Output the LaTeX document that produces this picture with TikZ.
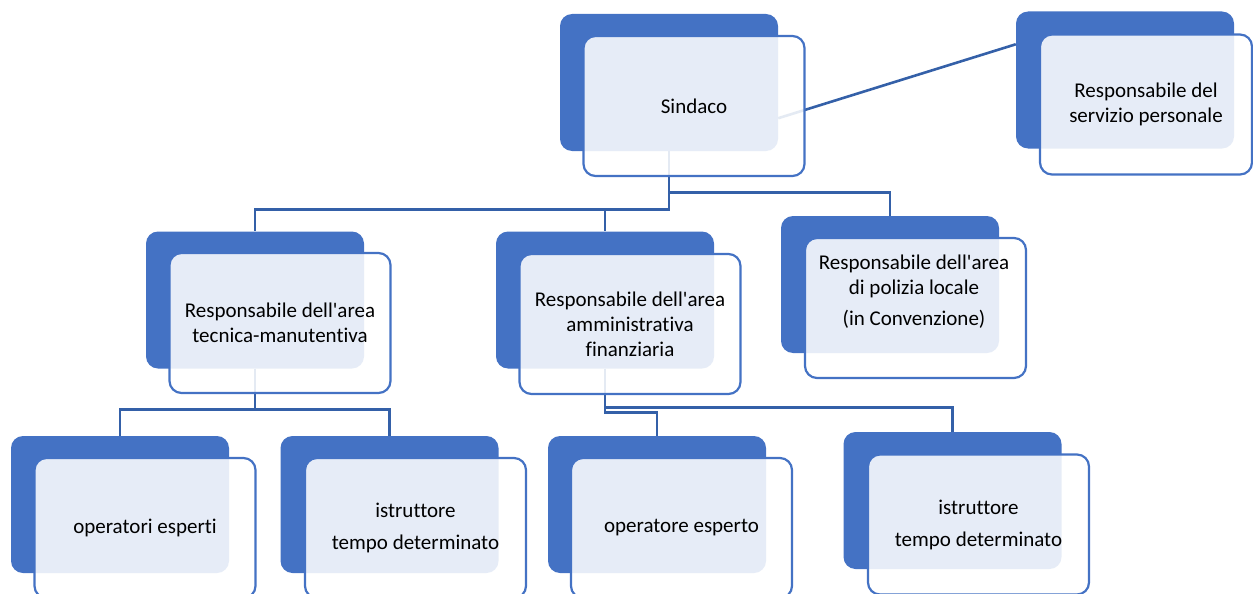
\documentclass[tikz,border=0pt]{standalone}
\usepackage{fontspec}
\setmainfont{Carlito}[Ligatures=NoCommon]
\usetikzlibrary{calc}
\definecolor{boxblue}{HTML}{4472C4}
\definecolor{linkblue}{HTML}{3460A8}
\newcommand{\apos}{\textquotesingle}
\begin{document}
\begin{tikzpicture}[x=1pt,y=-1pt,
    backbox/.style={fill=boxblue,rounded corners=12pt,minimum width=218pt,minimum height=137pt,inner sep=0pt},
    frontbox/.style={draw=boxblue,line width=2.2pt,fill=white,fill opacity=0.87,text opacity=1,
      rounded corners=12pt,minimum width=221pt,minimum height=140pt,inner sep=0pt,align=center,
      font=\fontsize{21}{25}\selectfont},
    lbl/.style={align=center,font=\fontsize{21}{25}\selectfont},
    link/.style={draw=linkblue,line width=2.6pt}]
  \useasboundingbox (0,0) rectangle (1253,594);

  % back boxes
  \node[backbox] (sindB) at (669,82.5) {};
  \node[backbox] (servB) at (1125,80) {};
  \node[backbox] (tecB)  at (255,300) {};
  \node[backbox] (ammB)  at (605,300) {};
  \node[backbox] (polB)  at (890,284.5) {};
  \node[backbox] (opB)   at (120,504.5) {};
  \node[backbox] (istB)  at (389.5,504.5) {};
  \node[backbox] (opeB)  at (657,504.5) {};
  \node[backbox] (ist2B) at (952.5,500.5) {};

  % connectors
  \foreach \c/\d in {tec/58,amm/58,pol/41}
  \draw[link] (sindB.south) -- ++(0,\d) -| (\c B.north);
  \foreach \c in {op,ist}
  \draw[link] (tecB.south) -- ++(0,41) -| (\c B.north);
  \draw[link] (ammB.south) -- ++(0,44) -| (opeB.north);
  \draw[link] (ammB.south) -- ++(0,39) -| (ist2B.north);
  \draw[link] ($(sindB.north east)!0.76!(sindB.south east)$)
           -- ($(servB.north west)!0.24!(servB.south west)$);

  % front boxes
  \node[frontbox] (sind) at (694,106) {Sindaco};
  \node[frontbox,minimum width=212pt] (serv) at (1146,104.5) {Responsabile del\\servizio personale};
  \node[frontbox] (tec) at (280,323) {Responsabile dell\apos area\\tecnica-manutentiva};
  \node[frontbox] (amm) at (630,324) {Responsabile dell\apos area\\amministrativa\\finanziaria};
  \node[frontbox] (pol) at (915.5,308) {};
  \node[lbl] (polT) at (914,292) {Responsabile dell\apos area\\di polizia locale\\[6pt](in Convenzione)};
  \node[frontbox] (op)   at (145,528) {operatori esperti};
  \node[frontbox] (ist)  at (415.5,528) {istruttore\\[7pt]tempo determinato};
  \node[frontbox] (ope)  at (681.5,528) {operatore esperto};
  \node[frontbox] (ist2) at (978.5,524.5) {istruttore\\[7pt]tempo determinato};
\end{tikzpicture}
\end{document}
